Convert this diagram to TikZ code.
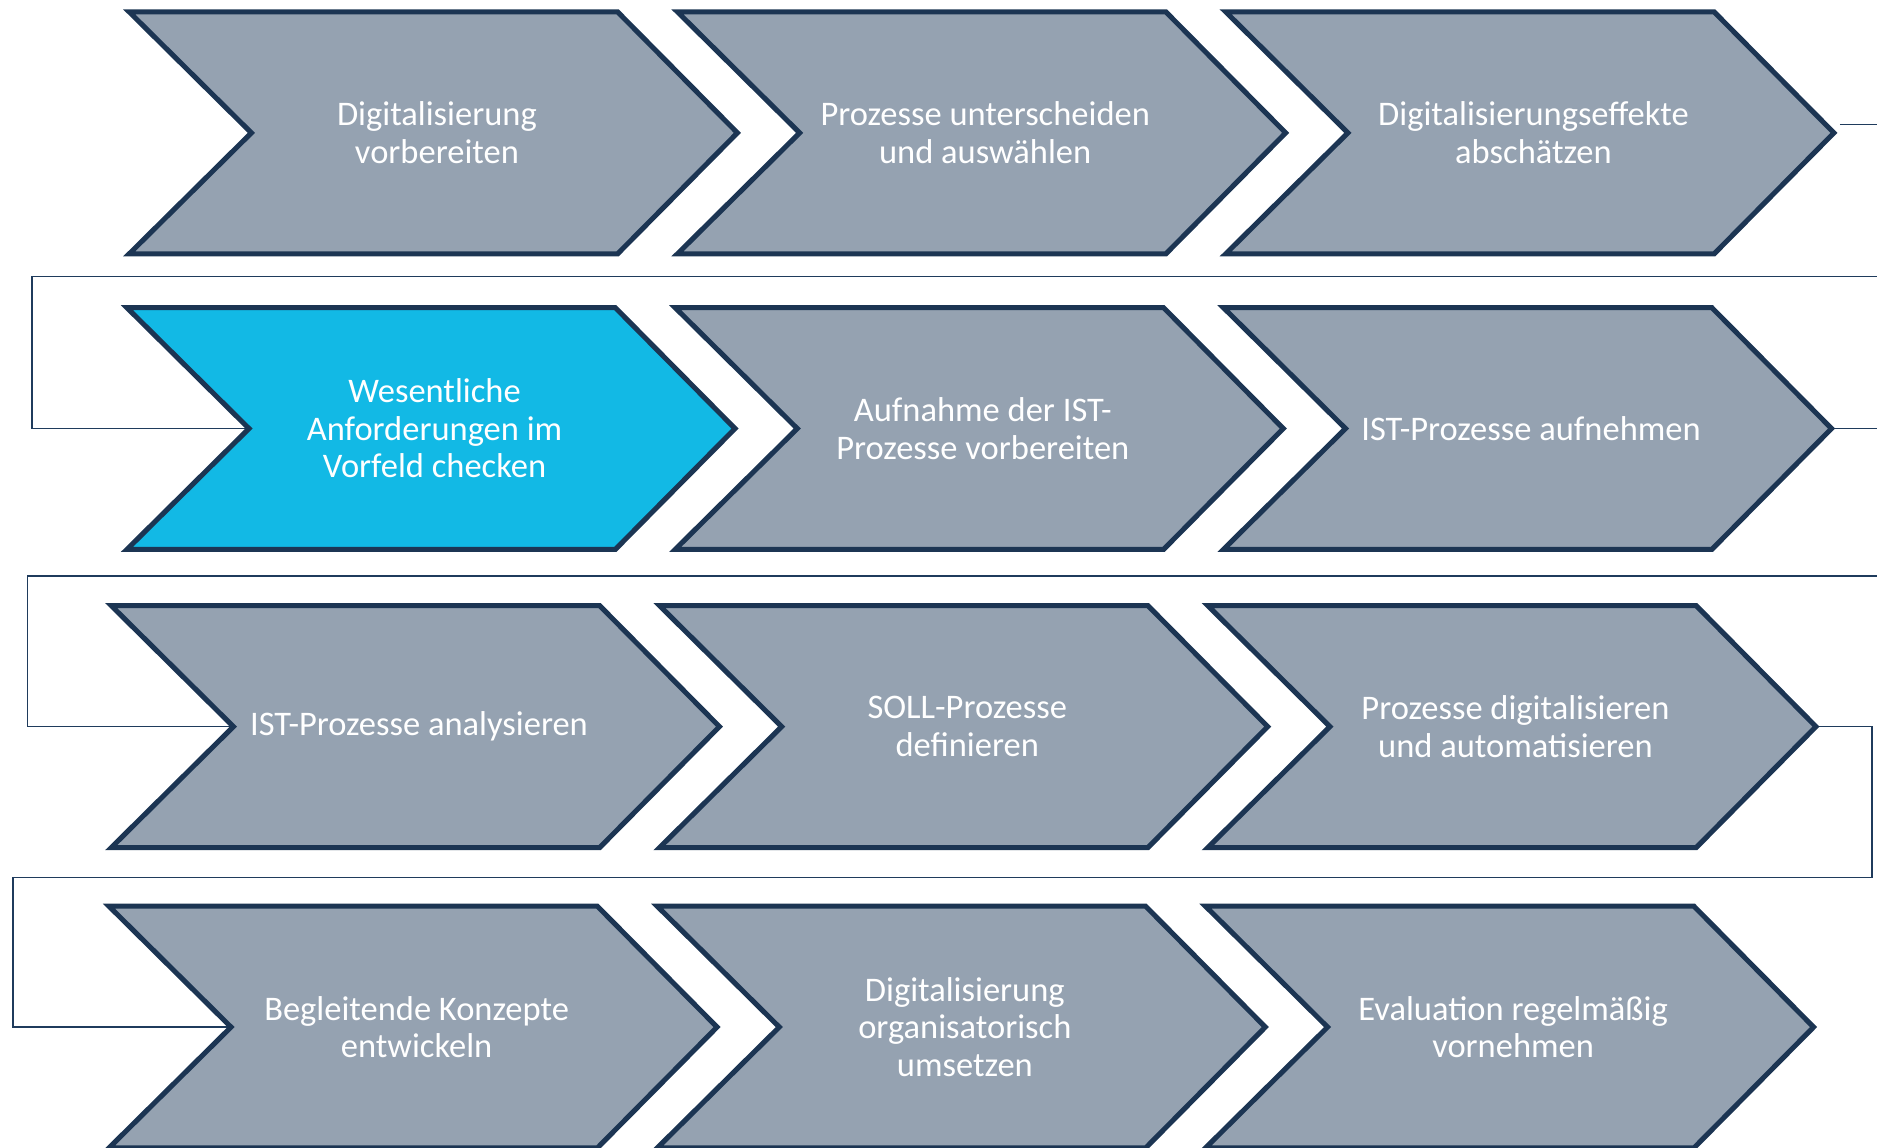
\documentclass[tikz,border=0pt]{standalone}
\usepackage{fontspec}
\setmainfont{Carlito}
\usetikzlibrary{backgrounds}
\definecolor{chevgrey}{HTML}{95A2B1}
\definecolor{chevblue}{HTML}{12B9E5}
\definecolor{chevborder}{HTML}{1C3553}
\definecolor{linkcol}{HTML}{1F3B5C}
\tikzset{
  chevron/.style={draw=chevborder, line width=2.4pt, fill=chevgrey},
  chevtext/.style={text=white, align=center, font=\fontsize{16.4}{17.8}\selectfont, inner sep=0pt},
  link/.style={draw=linkcol, line width=0.8pt}
}
% name, left x, top y, fill, text
\newcommand\chevstep[5]{%
  \path[chevron, fill=#4] (#2,#3) -- (#2+408,#3) -- (#2+508,#3+101) -- (#2+408,#3+202) -- (#2,#3+202) -- (#2+102,#3+101) -- cycle;
  \node[chevtext] (#1) at (#2+257,#3+101) {#5};
  \coordinate (#1-in) at (#2+102,#3+101);
  \coordinate (#1-out) at (#2+508,#3+101);
}
\begin{document}
\begin{tikzpicture}[x=0.02cm, y=-0.02cm]
\path[use as bounding box] (0,0) rectangle (1568,959);
\clip (0,0) rectangle (1568,959);
\chevstep{r1c1}{108}{10}{chevgrey}{Digitalisierung\\vorbereiten}
\chevstep{r1c2}{566}{10}{chevgrey}{Prozesse unterscheiden\\und auswählen}
\chevstep{r1c3}{1024}{10}{chevgrey}{Digitalisierungseffekte\\abschätzen}
\chevstep{r2c1}{106}{257}{chevblue}{Wesentliche\\Anforderungen im\\Vorfeld checken}
\chevstep{r2c2}{564}{257}{chevgrey}{Aufnahme der IST-\\Prozesse vorbereiten}
\chevstep{r2c3}{1022}{257}{chevgrey}{IST-Prozesse aufnehmen}
\chevstep{r3c1}{93}{506}{chevgrey}{IST-Prozesse analysieren}
\chevstep{r3c2}{551}{506}{chevgrey}{SOLL-Prozesse\\definieren}
\chevstep{r3c3}{1009}{506}{chevgrey}{Prozesse digitalisieren\\und automatisieren}
\chevstep{r4c1}{91}{757}{chevgrey}{Begleitende Konzepte\\entwickeln}
\chevstep{r4c2}{549}{757}{chevgrey}{Digitalisierung\\organisatorisch\\umsetzen}
\chevstep{r4c3}{1007}{757}{chevgrey}{Evaluation regelmäßig\\vornehmen}
\coordinate (k1) at (27,231);
\coordinate (k2) at (23,481);
\coordinate (k3) at (1564,733);
\coordinate (k3b) at (11,733);
\begin{scope}[on background layer]
\draw[link] ([shift={(5,-7)}]r1c3-out) -- ++(70,0) |- (k1) |- (r2c1-in);
\draw[link] (r2c3-out) -- ++(70,0) |- (k2) |- (r3c1-in);
\draw[link] (r3c3-out) -| (k3) -- (k3b) |- (r4c1-in);
\end{scope}
\end{tikzpicture}
\end{document}
